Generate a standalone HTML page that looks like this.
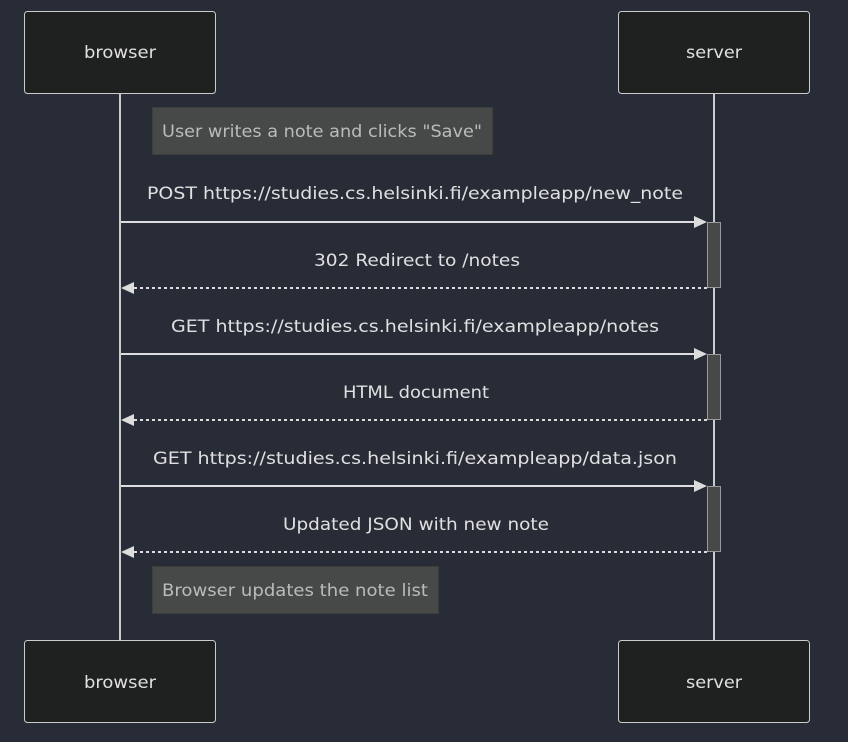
<!DOCTYPE html>
<html><head><meta charset="utf-8"><style>
html,body{margin:0;padding:0;background:#282c37;}
svg{display:block}
text{font-family:"DejaVu Sans","Liberation Sans",sans-serif;font-size:17px;}
</style></head><body>
<svg width="848" height="742" viewBox="0 0 848 742" xmlns="http://www.w3.org/2000/svg">
<rect width="848" height="742" fill="#282c37"/>
<line x1="120" y1="93" x2="120" y2="640" stroke="#cccccc" stroke-width="2"/>
<line x1="714" y1="93" x2="714" y2="640" stroke="#cccccc" stroke-width="2"/>
<g fill="#1f2020" stroke="#cccccc" stroke-width="1">
<rect x="24.5" y="11.5" width="191" height="82" rx="3"/>
<rect x="618.5" y="11.5" width="191" height="82" rx="3"/>
<rect x="24.5" y="640.5" width="191" height="82" rx="3"/>
<rect x="618.5" y="640.5" width="191" height="82" rx="3"/>
</g>
<g fill="#e0e0e0" text-anchor="middle">
<text x="120" y="58" textLength="72" lengthAdjust="spacingAndGlyphs">browser</text>
<text x="714" y="58" textLength="56" lengthAdjust="spacingAndGlyphs">server</text>
<text x="120" y="688" textLength="72" lengthAdjust="spacingAndGlyphs">browser</text>
<text x="714" y="688" textLength="56" lengthAdjust="spacingAndGlyphs">server</text>
</g>
<rect x="152.5" y="107.5" width="340" height="47" fill="#474949" stroke="#3c3e3e"/>
<text x="322" y="137" fill="#bbbbbb" text-anchor="middle" textLength="320" lengthAdjust="spacingAndGlyphs">User writes a note and clicks "Save"</text>
<rect x="152.5" y="566.5" width="286" height="47" fill="#474949" stroke="#3c3e3e"/>
<text x="295" y="596" fill="#bbbbbb" text-anchor="middle" textLength="266" lengthAdjust="spacingAndGlyphs">Browser updates the note list</text>
<g fill="#474949" stroke="#999999" stroke-width="1">
<rect x="707.5" y="222.5" width="13" height="65"/>
<rect x="707.5" y="354.5" width="13" height="65"/>
<rect x="707.5" y="486.5" width="13" height="65"/>
</g>
<g stroke="#dddddd" stroke-width="2" fill="none">
<line x1="121" y1="222" x2="700" y2="222"/>
<line x1="121" y1="354" x2="700" y2="354"/>
<line x1="121" y1="486" x2="700" y2="486"/>
<line x1="134" y1="288" x2="707" y2="288" stroke-dasharray="3,3"/>
<line x1="134" y1="420" x2="707" y2="420" stroke-dasharray="3,3"/>
<line x1="134" y1="552" x2="707" y2="552" stroke-dasharray="3,3"/>
</g>
<g fill="#dddddd">
<polygon points="707,222 694,216 694,228"/>
<polygon points="707,354 694,348 694,360"/>
<polygon points="707,486 694,480 694,492"/>
<polygon points="121,288 134,282 134,294"/>
<polygon points="121,420 134,414 134,426"/>
<polygon points="121,552 134,546 134,558"/>
</g>
<g fill="#e0e0e0" text-anchor="middle">
<text x="415" y="199" textLength="536" lengthAdjust="spacingAndGlyphs">POST https://studies.cs.helsinki.fi/exampleapp/new_note</text>
<text x="417" y="266" textLength="206" lengthAdjust="spacingAndGlyphs">302 Redirect to /notes</text>
<text x="415" y="332" textLength="488" lengthAdjust="spacingAndGlyphs">GET https://studies.cs.helsinki.fi/exampleapp/notes</text>
<text x="416" y="398" textLength="146" lengthAdjust="spacingAndGlyphs">HTML document</text>
<text x="415" y="464" textLength="524" lengthAdjust="spacingAndGlyphs">GET https://studies.cs.helsinki.fi/exampleapp/data.json</text>
<text x="416" y="530" textLength="266" lengthAdjust="spacingAndGlyphs">Updated JSON with new note</text>
</g>
</svg>
</body></html>
